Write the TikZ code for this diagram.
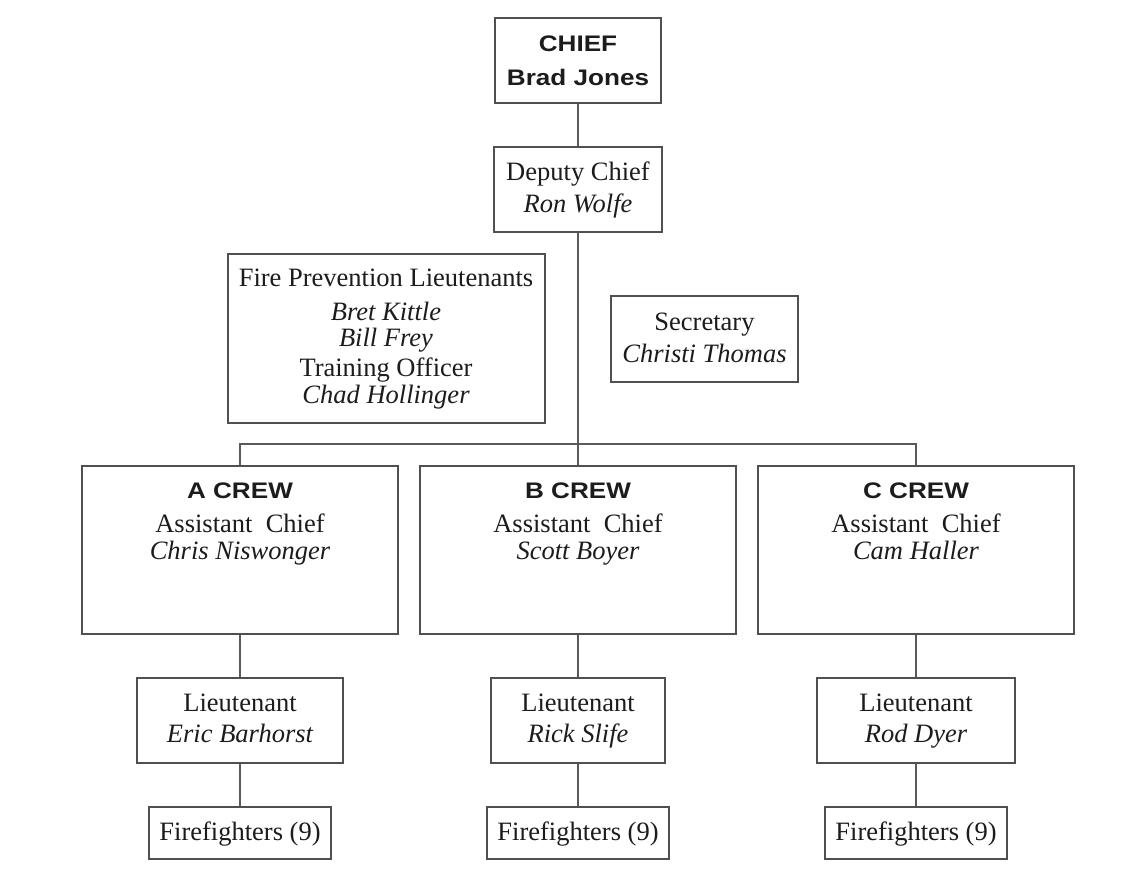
\documentclass[tikz,border=0pt]{standalone}
\usepackage{fontspec}
\setmainfont{Liberation Serif}
\newfontfamily\hsans{Liberation Sans}
\usepackage{graphicx}
\definecolor{boxc}{RGB}{80,80,80}
\definecolor{linec}{RGB}{90,90,90}
\definecolor{txtc}{RGB}{28,28,28}
\newcommand\wide[1]{\scalebox{1.16}[1]{#1}}
\begin{document}
\begin{tikzpicture}[x=1pt,y=-1pt,
  box/.style 2 args={draw=boxc, line width=1.8pt, inner sep=0pt, minimum width=#1, minimum height=#2},
  conn/.style={draw=linec, line width=1.5pt},
  txt/.style={anchor=base, inner sep=0pt, text=txtc, font=\fontsize{26.5}{30}\selectfont},
  ital/.style={anchor=base, inner sep=0pt, text=txtc, font=\fontsize{26.5}{30}\selectfont\itshape},
  head/.style={anchor=base, inner sep=0pt, text=txtc, font=\fontsize{22.5}{26}\selectfont\hsans\bfseries}]
\useasboundingbox[fill=white] (0,0) rectangle (1144,877);

% Chief
\node[box={166}{85}] (chief) at (578,60.5) {};
\node[head] (chiefT1) at (578,52) {\wide{CHIEF}};
\node[head] (chiefT2) at (578,86) {\wide{Brad Jones}};

% Deputy
\node[box={168}{85}] (deputy) at (578,189.5) {};
\node[txt] (deputyT1) at (578,181) {Deputy Chief};
\node[ital] (deputyT2) at (578,213) {Ron Wolfe};

% Fire prevention
\node[box={317}{169}] (fire) at (386.5,338.5) {};
\node[txt] (fireT1) at (386,287) {Fire Prevention Lieutenants};
\node[ital] (fireT2) at (386,321) {Bret Kittle};
\node[ital] (fireT3) at (386,347) {Bill Frey};
\node[txt] (fireT4) at (386,377) {Training Officer};
\node[ital] (fireT5) at (386,403) {Chad Hollinger};

% Secretary
\node[box={187}{86}] (sec) at (704.5,339) {};
\node[txt] (secT1) at (704.5,331) {Secretary};
\node[ital] (secT2) at (704.5,363) {Christi Thomas};

% Crews
\node[box={316}{168}] (acrew) at (240,550) {};
\node[head] (acrewT1) at (240,498) {\wide{A CREW}};
\node[txt] (acrewT2) at (240,532) {Assistant\ \ Chief};
\node[ital] (acrewT3) at (240,559) {Chris Niswonger};

\node[box={316}{168}] (bcrew) at (578,550) {};
\node[head] (bcrewT1) at (578,498) {\wide{B CREW}};
\node[txt] (bcrewT2) at (578,532) {Assistant\ \ Chief};
\node[ital] (bcrewT3) at (578,559) {Scott Boyer};

\node[box={316}{168}] (ccrew) at (916,550) {};
\node[head] (ccrewT1) at (916,498) {\wide{C CREW}};
\node[txt] (ccrewT2) at (916,532) {Assistant\ \ Chief};
\node[ital] (ccrewT3) at (916,559) {Cam Haller};

% Lieutenants
\node[box={206}{85}] (ltA) at (240,720.5) {};
\node[txt] (ltAT1) at (240,711) {Lieutenant};
\node[ital] (ltAT2) at (240,742) {Eric Barhorst};

\node[box={174}{85}] (ltB) at (578,720.5) {};
\node[txt] (ltBT1) at (578,711) {Lieutenant};
\node[ital] (ltBT2) at (578,742) {Rick Slife};

\node[box={198}{85}] (ltC) at (916,720.5) {};
\node[txt] (ltCT1) at (916,711) {Lieutenant};
\node[ital] (ltCT2) at (916,742) {Rod Dyer};

% Firefighters
\node[box={182}{52}] (ffA) at (240,833) {};
\node[txt] (ffAT) at (240,840) {Firefighters (9)};
\node[box={182}{52}] (ffB) at (578,833) {};
\node[txt] (ffBT) at (578,840) {Firefighters (9)};
\node[box={182}{52}] (ffC) at (916,833) {};
\node[txt] (ffCT) at (916,840) {Firefighters (9)};

% Connectors
\coordinate (bus) at (578,444);
\draw[conn] (chief) -- (deputy);
\draw[conn] (deputy.south) -- (deputy.south |- bcrew.north);
\draw[conn] (acrew.north) |- (bus) -| (ccrew.north);
\draw[conn] (acrew) -- (ltA);
\draw[conn] (bcrew) -- (ltB);
\draw[conn] (ccrew) -- (ltC);
\draw[conn] (ltA) -- (ffA);
\draw[conn] (ltB) -- (ffB);
\draw[conn] (ltC) -- (ffC);
\end{tikzpicture}
\end{document}
